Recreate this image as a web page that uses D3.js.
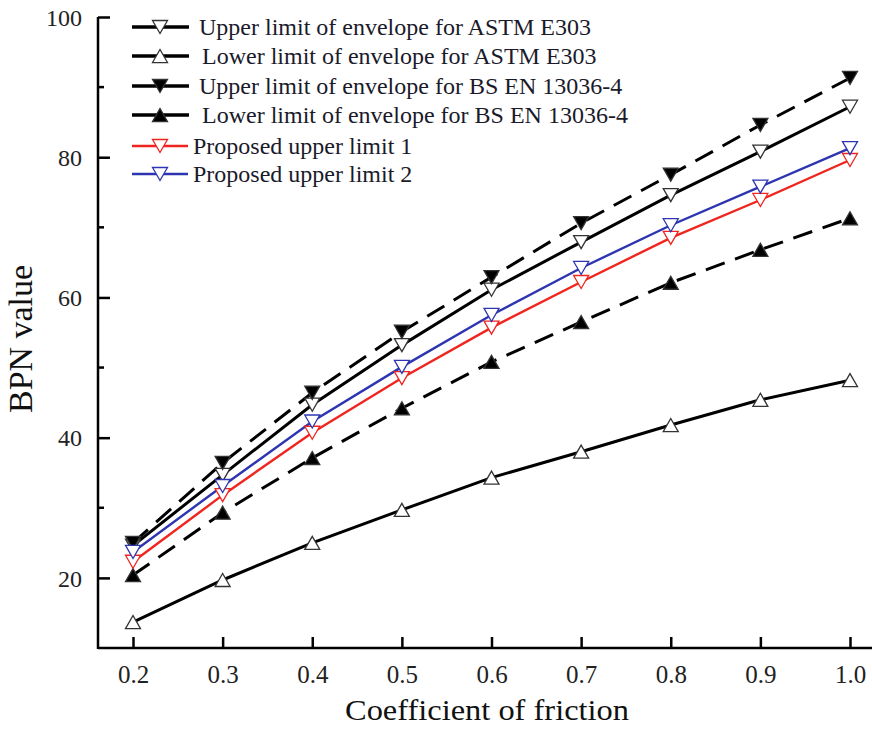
<!DOCTYPE html>
<html><head><meta charset="utf-8">
<script src="https://cdn.jsdelivr.net/npm/d3@7"></script>
<style>body{margin:0;background:#fff}svg{display:block}</style>
</head><body>
<svg id="c" width="872" height="729"></svg>
<script>
const friction = [0.2,0.3,0.4,0.5,0.6,0.7,0.8,0.9,1.0];
const astmUpper = [24.6,34.7,44.7,53.2,61.1,67.9,74.6,80.8,87.2];
const astmLower = [13.7,19.7,25.0,29.7,34.3,38.0,41.8,45.4,48.2];
const bsUpper   = [25.0,36.4,46.4,55.1,62.9,70.6,77.5,84.6,91.3];
const bsLower   = [20.4,29.3,37.1,44.2,50.8,56.5,62.1,66.8,71.3];
const proposed1 = [22.3,31.8,40.7,48.5,55.7,62.2,68.5,73.9,79.6];
const proposed2 = [23.7,33.1,42.3,50.1,57.5,64.2,70.3,75.8,81.3];
const xTicks = [0.2,0.3,0.4,0.5,0.6,0.7,0.8,0.9,1.0];
const yTicks = [20,40,60,80,100];
const yMinor = [30,50,70,90];

const series = [
  {name:"Upper limit of envelope for ASTM E303", values:astmUpper, color:"#000", dash:null, sym:"down", fill:"#fff", lw:3, lead:0},
  {name:"Lower limit of envelope for ASTM E303", values:astmLower, color:"#000", dash:null, sym:"up", fill:"#fff", lw:3, lead:3},
  {name:"Upper limit of envelope for BS EN 13036-4", values:bsUpper, color:"#000", dash:"20,11", sym:"down", fill:"#000", lw:3, lead:0},
  {name:"Lower limit of envelope for BS EN 13036-4", values:bsLower, color:"#000", dash:"20,11", sym:"up", fill:"#000", lw:3, lead:3},
  {name:"Proposed upper limit 1", values:proposed1, color:"#f0251f", dash:null, sym:"down", fill:"#fff", lw:2.4, lead:-6},
  {name:"Proposed upper limit 2", values:proposed2, color:"#2e35b0", dash:null, sym:"down", fill:"#fff", lw:2.4, lead:-6}
];

const svg = d3.select("#c");
const x = d3.scaleLinear().domain([0.16,1.04]).range([133-0.04*896.25, 850+0.04*896.25]);
const y = d3.scaleLinear().domain([10,100]).range([648,17]);
const font = "'Liberation Serif','Times New Roman',serif";

const line = d3.line().x((d,i)=>x(friction[i])).y(d=>y(d));
function tri(g, cx, cy, dir, s, stroke, fill){
  const h = s*0.87;
  let pts;
  if(dir==="down") pts = [[cx-s/2,cy-h/2],[cx+s/2,cy-h/2],[cx,cy+h/2]];
  else pts = [[cx-s/2,cy+h/2],[cx+s/2,cy+h/2],[cx,cy-h/2]];
  g.append("path").attr("d","M"+pts.map(p=>p.join(",")).join("L")+"Z")
    .attr("fill",fill).attr("stroke",stroke==="#000"?"#333":stroke).attr("stroke-width",1.3);
}
const plot = svg.append("g");
series.forEach(s=>{
  plot.append("path").datum(s.values).attr("d",line).attr("fill","none")
    .attr("stroke",s.color).attr("stroke-width",s.lw)
    .attr("stroke-dasharray",s.dash);
});
series.forEach(s=>{
  const g = plot.append("g");
  s.values.forEach((v,i)=>tri(g, x(friction[i]), y(v), s.sym, 15, s.color, s.fill));
});

// axes
const xAxis = d3.axisBottom(x).tickValues(xTicks).tickFormat(d3.format(".1f")).tickSizeInner(-11).tickSizeOuter(0).tickPadding(18);
const gx = svg.append("g").attr("transform","translate(0,648)").call(xAxis);
gx.select(".domain").attr("stroke","#000").attr("stroke-width",2.5).attr("d",`M98,0H${x(1.04)}`);
gx.selectAll(".tick line").attr("stroke","#000").attr("stroke-width",2.5);
gx.selectAll(".tick text").attr("font-family",font).attr("font-size",25).attr("fill","#222").attr("dy","0.66em");

const yAxis = d3.axisLeft(y).tickValues(yTicks).tickSizeInner(-12).tickSizeOuter(0).tickPadding(16);
const gy = svg.append("g").attr("transform","translate(98,0)").call(yAxis);
gy.select(".domain").attr("stroke","#000").attr("stroke-width",2.5).attr("d",`M0,${y(10)+1}V${y(100)}`);
gy.selectAll(".tick line").attr("stroke","#000").attr("stroke-width",2.5);
gy.selectAll(".tick text").attr("font-family",font).attr("font-size",24).attr("fill","#222").attr("dy","0.34em");
gy.selectAll(".minor").data(yMinor).enter().append("line").attr("class","minor")
  .attr("x1",0).attr("x2",6).attr("y1",d=>y(d)).attr("y2",d=>y(d)).attr("stroke","#000").attr("stroke-width",2.5);

// axis titles
svg.append("text").attr("x",345).attr("y",720)
  .attr("textLength",284).attr("lengthAdjust","spacingAndGlyphs")
  .attr("font-family",font).attr("font-size",29).attr("fill","#111").text("Coefficient of friction");
svg.append("text").attr("transform","translate(32,413) rotate(-90)")
  .attr("textLength",148).attr("lengthAdjust","spacingAndGlyphs")
  .attr("font-family",font).attr("font-size",33).attr("fill","#111").text("BPN value");

// legend
const leg = svg.append("g");
const rowsY = [27,56,86,115,146,174];
series.forEach((s,i)=>{
  const ly = rowsY[i];
  const x1 = 132, x2 = s.lead<0 ? 188 : 189;
  leg.append("line").attr("x1",x1).attr("x2",x2).attr("y1",ly).attr("y2",ly)
    .attr("stroke",s.color).attr("stroke-width",s.lead<0?2.6:3.5);
  tri(leg, 160, ly, s.sym, 15, s.color, s.fill);
  leg.append("text").attr("x",(s.lead<0?193:199)+Math.max(0,s.lead)).attr("y",ly).attr("dy","0.33em")
    .attr("font-family",font).attr("font-size",24).attr("fill","#1a1a2a").text(s.name);
});
</script>
</body></html>
